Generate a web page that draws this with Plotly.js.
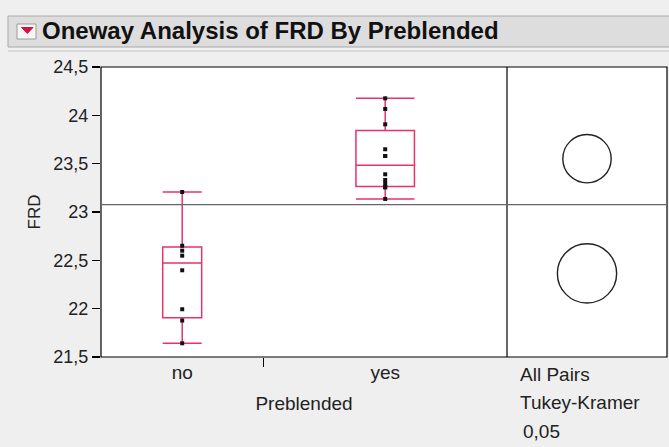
<!DOCTYPE html>
<html>
<head>
<meta charset="utf-8">
<script src="https://cdn.plot.ly/plotly-3.0.1.min.js"></script>
<style>html,body{margin:0;padding:0;background:#efefef;}#chart{width:669px;height:447px;}</style>
</head>
<body>
<div id="chart"></div>
<script>
// ---- data ----
const categories = ['no', 'yes'];
const frdNo  = [21.642, 21.877, 21.994, 22.397, 22.548, 22.600, 22.651, 23.207];
const frdYes = [23.135, 23.256, 23.256, 23.290, 23.331, 23.390, 23.579, 23.579, 23.649, 23.907, 24.066, 24.176];
const yTickVals = [21.5, 22, 22.5, 23, 23.5, 24, 24.5];
const titleText = 'Oneway Analysis of FRD By Preblended';
const compareLabels = ['All Pairs', 'Tukey-Kramer', '0,05'];
const qCrit = 2.101; // Tukey-Kramer critical value, alpha 0.05, 2 groups

// ---- geometry ----
const W = 669, H = 447;
const M = {l: 101, r: 2, t: 67, b: 90};
const PW = W - M.l - M.r, PH = H - M.t - M.b;
const fx = x => (x - M.l) / PW;
const fy = y => (H - M.b - y) / PH;
const split = fx(507);

const BOX = '#e8336b';
const FONT = 'Liberation Sans, Arial, sans-serif';
const TXT = '#222';

// ---- statistics ----
const groups = [frdNo, frdYes];
function q(sorted, p) {
  const n = sorted.length, h = (n + 1) * p, lo = Math.floor(h), f = h - lo;
  if (lo < 1) return sorted[0];
  if (lo >= n) return sorted[n - 1];
  return sorted[lo - 1] + f * (sorted[lo] - sorted[lo - 1]);
}
const N = groups.reduce((s, g) => s + g.length, 0);
let start = 0;
const centers = [], widths = [];
groups.forEach(g => { centers.push(start + g.length / 2); widths.push(g.length * 0.24); start += g.length; });
const boundary = frdNo.length;
const means = groups.map(g => g.reduce((a, b) => a + b, 0) / g.length);
const grandMean = groups.flat().reduce((a, b) => a + b, 0) / N;
let sse = 0;
groups.forEach((g, i) => g.forEach(v => { sse += (v - means[i]) ** 2; }));
const mse = sse / (N - groups.length);
const radii = groups.map(g => qCrit * Math.sqrt(mse / g.length));

const yRange = [21.5, 24.5];
const pxPerY = PH / (yRange[1] - yRange[0]);
const x2Range = [-1, 1];
const pxPerX2 = PW * (1 - split) / (x2Range[1] - x2Range[0]);

const traces = [];
groups.forEach((g, i) => {
  const s = g.slice().sort((a, b) => a - b);
  const q1 = q(s, 0.25), med = q(s, 0.5), q3 = q(s, 0.75), iqr = q3 - q1;
  const lf = s.find(v => v >= q1 - 1.5 * iqr);
  const uf = s.slice().reverse().find(v => v <= q3 + 1.5 * iqr);
  traces.push({
    type: 'box', x: [centers[i]], q1: [q1], median: [med], q3: [q3],
    lowerfence: [lf], upperfence: [uf], width: widths[i], whiskerwidth: 1,
    line: {color: BOX, width: 1.5}, fillcolor: 'rgba(0,0,0,0)',
    boxpoints: false, hoverinfo: 'skip', showlegend: false, xaxis: 'x', yaxis: 'y'
  });
  traces.push({
    type: 'scatter', mode: 'markers', x: g.map(() => centers[i]), y: g,
    marker: {symbol: 'square', size: 4, color: '#111'}, showlegend: false,
    xaxis: 'x', yaxis: 'y'
  });
});

const shapes = [
  // header bar
  {type: 'rect', xref: 'paper', yref: 'paper', x0: fx(8), x1: fx(700), y0: fy(47), y1: fy(16),
   fillcolor: '#dddddd', line: {color: '#a9a9a9', width: 1}, layer: 'above'},
  {type: 'line', xref: 'paper', yref: 'paper', x0: fx(8), x1: fx(700), y0: fy(51), y1: fy(51),
   line: {color: '#c6c6c6', width: 1}},
  {type: 'rect', xref: 'paper', yref: 'paper', x0: fx(17), x1: fx(36), y0: fy(39), y1: fy(24),
   fillcolor: '#f6f6f6', line: {color: '#9c9c9c', width: 1}},
  {type: 'path', xref: 'paper', yref: 'paper',
   path: `M ${fx(21.5)} ${fy(27.5)} L ${fx(33)} ${fy(27.5)} L ${fx(27.3)} ${fy(33.5)} Z`,
   fillcolor: '#d6123f', line: {color: '#d6123f', width: 1}},
  // frame
  {type: 'rect', xref: 'paper', yref: 'paper', x0: 0, x1: 1, y0: 0, y1: 1,
   line: {color: '#000', width: 1.2}},
  {type: 'line', xref: 'paper', yref: 'paper', x0: split, x1: split, y0: 0, y1: 1,
   line: {color: '#000', width: 1.2}},
  // grand mean
  {type: 'line', xref: 'paper', yref: 'y', x0: 0, x1: 1, y0: grandMean, y1: grandMean,
   line: {color: '#666', width: 1.2}}
];
means.forEach((m, i) => {
  const rx = radii[i] * pxPerY / pxPerX2;
  shapes.push({type: 'circle', xref: 'x2', yref: 'y', x0: -rx, x1: rx, y0: m - radii[i], y1: m + radii[i],
    line: {color: '#222', width: 1.4}});
});

const annotations = [
  {text: '<b>' + titleText + '</b>', xref: 'paper', yref: 'paper', x: fx(40), y: fy(31),
   xanchor: 'left', yanchor: 'middle', showarrow: false, font: {family: FONT, size: 24, color: '#111'}},
];
const labY = [374, 402, 431];
const labX = [518, 518, 521];
compareLabels.forEach((t, i) => annotations.push({
  text: t, xref: 'paper', yref: 'paper', x: fx(labX[i]), y: fy(labY[i]), xanchor: 'left', yanchor: 'middle',
  showarrow: false, font: {family: FONT, size: 19, color: TXT}
}));

const layout = {
  width: W, height: H, margin: M,
  paper_bgcolor: '#efefef', plot_bgcolor: '#ffffff',
  separators: ', ',
  showlegend: false,
  font: {family: FONT, color: TXT},
  xaxis: {domain: [0, split], range: [0, N], tickmode: 'array', tickvals: centers, ticktext: categories,
    ticks: '', ticklabelstandoff: 2, showgrid: false, zeroline: false, showline: false,
    tickfont: {family: FONT, size: 19, color: TXT},
    minor: {tickmode: 'array', tickvals: [boundary], ticks: 'outside', ticklen: 9, tickcolor: '#000', tickwidth: 1.2, showgrid: false},
    title: {text: 'Preblended', font: {family: FONT, size: 19, color: TXT}, standoff: 14},
    fixedrange: true},
  xaxis2: {domain: [split, 1], range: x2Range, anchor: 'y', showticklabels: false, ticks: '',
    showgrid: false, zeroline: false, showline: false},
  yaxis: {range: yRange, tickmode: 'array', tickvals: yTickVals, tickformat: '.1~f',
    ticks: 'outside', ticklen: 8, tickcolor: '#000', tickwidth: 1.2, showgrid: false, zeroline: false,
    showline: false, tickfont: {family: FONT, size: 18, color: TXT},
    title: {text: 'FRD', font: {family: FONT, size: 17, color: TXT}, standoff: 8}},
  shapes: shapes,
  annotations: annotations
};

Plotly.newPlot('chart', traces, layout, {staticPlot: true, displayModeBar: false});
</script>
</body>
</html>
